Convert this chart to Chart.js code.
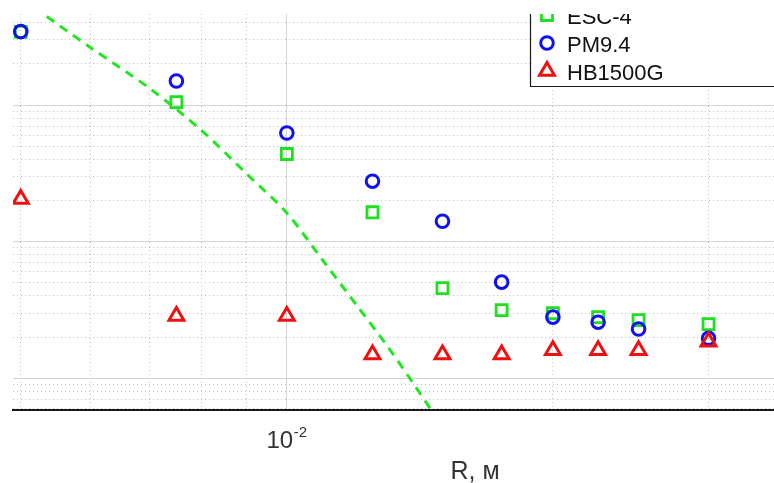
<!DOCTYPE html>
<html>
<head>
<meta charset="utf-8">
<script src="https://cdn.jsdelivr.net/npm/chart.js@4.4.1/dist/chart.umd.min.js"></script>
<style>
  html, body { margin: 0; padding: 0; background: #fff; overflow: hidden; width: 774px; height: 483px; }
  #wrap { position: absolute; left: 0; top: 0; width: 950px; height: 487px; }
</style>
</head>
<body>
<div id="wrap"><canvas id="chart" width="950" height="487"></canvas></div>
<script>
// R, m
const radiusR = [0.005, 0.0075, 0.01, 0.0125, 0.015, 0.0175, 0.02, 0.0225, 0.025, 0.03];
const esc4 = [343, 105, 43.8, 16.4, 4.56, 3.15, 2.99, 2.80, 2.66, 2.49];
const pm94 = [345, 150, 62.4, 27.7, 14.1, 5.05, 2.80, 2.57, 2.29, 1.96];
const hb1500g = [20.5, 2.85, 2.85, 1.49, 1.49, 1.49, 1.60, 1.60, 1.60, 1.85];

// dashed green curve
const curveR = [0.005, 0.006, 0.007, 0.008, 0.009, 0.010, 0.011, 0.012, 0.013, 0.014, 0.015];
const curveVal = [607, 263, 132, 65.5, 31.5, 16.2, 7.19, 3.41, 1.71, 0.857, 0.44];

const seriesNames = ["ESC-4", "PM9.4", "HB1500G"];

// grid / tick values
const xGrid = [0.005, 0.006, 0.007, 0.008, 0.009, 0.01, 0.02, 0.03, 0.04, 0.05];
const yGrid = [0.6, 0.7, 0.8, 0.9, 1, 2, 3, 4, 5, 6, 7, 8, 9, 10, 20, 30, 40, 50, 60, 70, 80, 90, 100, 200, 300, 400];
const xLabelAt = [0.01];
const xLabelBase = ["10"];
const xLabelExp = ["-2"];

const FONT = "'Liberation Sans', Arial, sans-serif";

function isDecade(v) {
  const l = Math.log10(v);
  return Math.abs(l - Math.round(l)) < 1e-6;
}
function toPoints(xs, ys) {
  return xs.map((x, i) => ({ x: x, y: ys[i] }));
}
function labelIndex(v) {
  return xLabelAt.findIndex(a => Math.abs(a - v) < 1e-9);
}

// exponent of the 10^n tick labels
const tickExponent = {
  id: "tickExponent",
  afterDraw(chart) {
    const sx = chart.scales.x;
    const ctx = chart.ctx;
    ctx.save();
    ctx.font = "24px " + FONT;
    const baseW = ctx.measureText("10").width;
    xLabelAt.forEach((v, i) => {
      const px = sx.getPixelForValue(v) - 7;
      ctx.font = "15px " + FONT;
      ctx.fillStyle = "#333";
      ctx.textAlign = "left";
      ctx.textBaseline = "alphabetic";
      ctx.fillText(xLabelExp[i], px + baseW / 2 + 0.5, sx.top + 27);
    });
    ctx.restore();
  }
};

// Legend box in the upper right, clipped by the plot top
const boxLegend = {
  id: "boxLegend",
  afterDraw(chart) {
    const ctx = chart.ctx;
    const top = chart.chartArea.top;
    ctx.save();
    ctx.beginPath();
    ctx.rect(0, top, chart.width, chart.height - top);
    ctx.clip();
    const left = 530, bottom = 86;
    ctx.fillStyle = "#fff";
    ctx.fillRect(left, 0, chart.width - left, bottom);
    ctx.strokeStyle = "#1a1a1a";
    ctx.lineWidth = 1.2;
    ctx.beginPath();
    ctx.moveTo(left + 0.5, 0);
    ctx.lineTo(left + 0.5, bottom + 0.5);
    ctx.lineTo(chart.width, bottom + 0.5);
    ctx.stroke();
    const sets = chart.data.datasets.slice(0, 3);
    sets.forEach((d, i) => {
      const cy = 15 + i * 28;
      ctx.strokeStyle = d.borderColor;
      ctx.fillStyle = "rgba(0,0,0,0)";
      ctx.lineWidth = d.borderWidth;
      Chart.helpers.drawPoint(ctx, { pointStyle: d.pointStyle, radius: d.pointRadius, borderWidth: d.borderWidth, rotation: 0 }, 547, cy);
      ctx.fillStyle = "#111";
      ctx.font = "22px " + FONT;
      ctx.textBaseline = "alphabetic";
      ctx.textAlign = "left";
      ctx.fillText(seriesNames[i], 567, cy + 8.5);
    });
    ctx.restore();
  }
};

const gridColor = (c) => (c.tick && isDecade(c.tick.value)) ? "#d3d3d3" : "#c2c2c2";
const gridDash = (c) => (c.tick && !isDecade(c.tick.value)) ? [1, 3] : [];

new Chart(document.getElementById("chart"), {
  type: "scatter",
  data: {
    datasets: [
      {
        label: seriesNames[0],
        data: toPoints(radiusR, esc4),
        pointStyle: "rect",
        pointRadius: 7.8,
        borderWidth: 2.8,
        borderColor: "#1ee01e",
        backgroundColor: "rgba(0,0,0,0)",
        order: 2
      },
      {
        label: seriesNames[1],
        data: toPoints(radiusR, pm94),
        pointStyle: "circle",
        pointRadius: 6.3,
        borderWidth: 3,
        borderColor: "#1010f0",
        backgroundColor: "rgba(0,0,0,0)",
        order: 1
      },
      {
        label: seriesNames[2],
        data: toPoints(radiusR, hb1500g),
        pointStyle: "triangle",
        pointRadius: 8.6,
        borderWidth: 3,
        borderColor: "#f01010",
        backgroundColor: "rgba(0,0,0,0)",
        order: 0
      },
      {
        label: "curve",
        data: toPoints(curveR, curveVal),
        showLine: true,
        pointRadius: 0,
        borderColor: "#22e622",
        borderWidth: 3,
        borderDash: [9, 7],
        tension: 0.3,
        fill: false,
        order: 3
      }
    ]
  },
  options: {
    responsive: false,
    animation: false,
    events: [],
    layout: { padding: { left: 13, right: 13, top: 14, bottom: 0 } },
    plugins: {
      legend: { display: false },
      tooltip: { enabled: false }
    },
    scales: {
      x: {
        type: "logarithmic",
        min: 0.0049,
        max: 0.0544,
        afterBuildTicks: (s) => { s.ticks = xGrid.map(v => ({ value: v })); },
        grid: { color: gridColor, lineWidth: 1, drawTicks: true, tickLength: 17, tickColor: "rgba(0,0,0,0)" },
        border: { display: true, color: "#1a1a1a", width: 2, dash: gridDash },
        ticks: {
          autoSkip: false,
          maxRotation: 0,
          padding: 0,
          labelOffset: -7,
          color: "#333",
          font: { family: FONT, size: 24 },
          callback: (v) => {
            const k = labelIndex(v);
            return k >= 0 ? xLabelBase[k] : "";
          }
        },
        title: {
          display: true,
          text: "R, \u043C",
          color: "#333",
          font: { family: FONT, size: 25 },
          padding: { top: 1, bottom: 0 }
        }
      },
      y: {
        type: "logarithmic",
        min: 0.583,
        max: 464,
        afterBuildTicks: (s) => { s.ticks = yGrid.map(v => ({ value: v })); },
        grid: { color: gridColor, lineWidth: 1, drawTicks: false },
        border: { display: false, dash: gridDash },
        ticks: { display: false }
      }
    }
  },
  plugins: [boxLegend, tickExponent]
});
</script>
</body>
</html>
